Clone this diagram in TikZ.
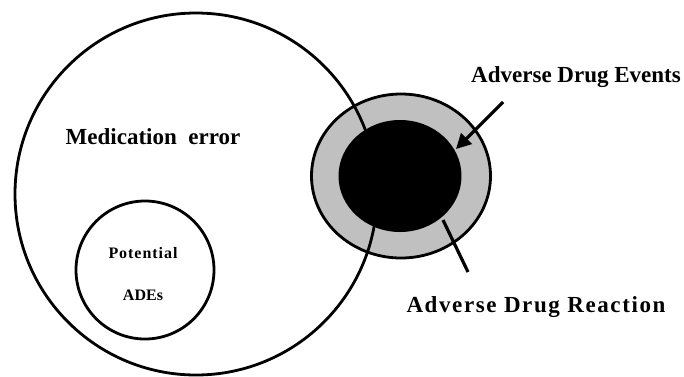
\documentclass[tikz,border=0pt]{standalone}
\usepackage{fontspec}
\setmainfont{Liberation Serif}
\usetikzlibrary{arrows.meta,positioning,shapes.geometric}
\definecolor{ringgray}{HTML}{C0C0C0}
\tikzset{
  outline/.style={draw=black, line width=2.8pt, inner sep=0pt},
  bigtxt/.style={font=\bfseries\fontsize{23}{25}\selectfont, inner sep=0pt},
  smalltxt/.style={font=\bfseries\fontsize{16}{18}\selectfont, inner sep=0pt},
  arr/.style={-{Triangle[length=15pt,width=15pt]}, line width=3.2pt},
  pointer/.style={line width=3.2pt}
}
\begin{document}
\begin{tikzpicture}[x=1pt, y=-1pt]
  \useasboundingbox (0,0) rectangle (684,376);

  % adverse drug events ring, then the error circle over it
  \node[outline, ellipse, fill=ringgray, minimum width=179pt, minimum height=164pt] (ade) at (401,176) {};
  \node[outline, circle, minimum size=362pt] (mederr) at (196,194) {};
  \node[ellipse, fill=black, minimum width=123pt, minimum height=112pt, inner sep=0pt] (adr) at (400,176) {};
  \node[outline, circle, minimum size=138pt] (pot) at (145,270) {};

  % labels
  \node[bigtxt] (mederrlbl) at (153,137) {Medication\ \ error};
  \node[smalltxt] (potlbl) at (143,253) {\addfontfeatures{LetterSpace=6}Potential};
  \node[smalltxt, below=42pt of potlbl.center, anchor=center] (adeslbl) {ADEs};
  \node[bigtxt] (adelbl) at (576,77) {Adverse Drug Events};
  \node[bigtxt] (adrlbl) at (536,307) {\addfontfeatures{LetterSpace=7}Adverse Drug Reaction};

  % pointers
  \coordinate (evtail) at (503,102);
  \coordinate (evtip) at (456,149);
  \draw[arr] (evtail) -- (evtip);
  \coordinate (rxstart) at (443,220);
  \coordinate (rxend) at (468,272);
  \draw[pointer] (rxstart) -- (rxend);
\end{tikzpicture}
\end{document}
